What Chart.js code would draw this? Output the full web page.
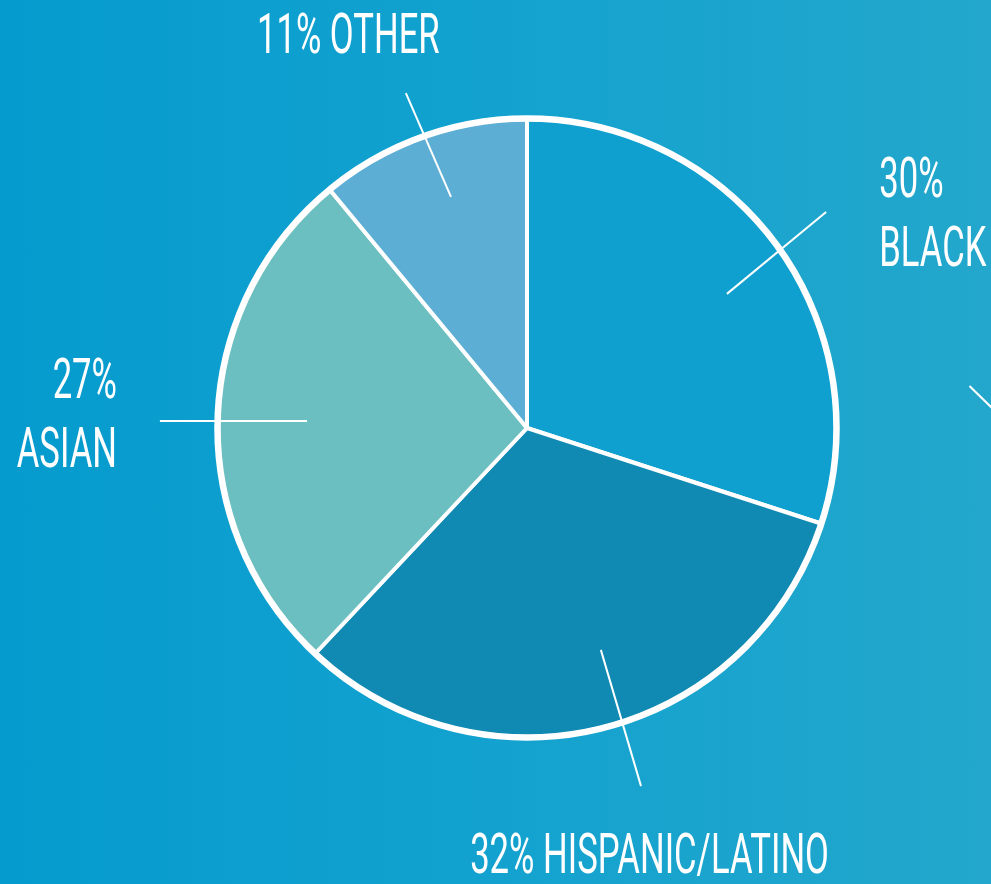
<!DOCTYPE html>
<html>
<head>
<meta charset="utf-8">
<script src="https://cdn.jsdelivr.net/npm/chart.js@4.4.1/dist/chart.umd.min.js"></script>
<style>
  html, body { margin: 0; padding: 0; }
  body {
    width: 991px; height: 884px; overflow: hidden;
    background: linear-gradient(to right, #059bce 0%, #13a2cf 50%, #23a7cc 100%);
  }
  #wrap { position: relative; width: 991px; height: 884px; }
</style>
</head>
<body>
<div id="wrap"><canvas id="myChart"></canvas></div>
<script>
var categories = ['BLACK', 'HISPANIC/LATINO', 'ASIAN', 'OTHER'];
var shares = [30, 32, 27, 11];
var sliceColors = ['#10a0cf', '#118ab3', '#6cbfc0', '#5daed5'];

// label text lines for each slice
var labelLines = [
    ['30%', 'BLACK'],
    ['32% HISPANIC/LATINO'],
    ['27%', 'ASIAN'],
    ['11% OTHER']
];
// first baseline, relative to the pie centre in radius units, and alignment
var labelPlace = [
    [1.140, -0.747, 'left'],
    [-0.184, 1.440, 'left'],
    [-1.327, -0.097, 'right'],
    [-0.874, -1.214, 'left']
];
// leader lines, inner end then outer end, relative to the centre in radius units
var leaderLines = [
    [[0.647, -0.434], [0.968, -0.699]],
    [[0.239, 0.718], [0.369, 1.159]],
    [[-0.712, -0.023], [-1.188, -0.023]],
    [[-0.246, -0.748], [-0.392, -1.084]],
    [[1.432, -0.136], [1.52, -0.05]]     // stray one at the right edge
];

var FONT_SIZE = 55;
var SQUEEZE = 0.63;   // condensed look
var LINE_GAP = 69;

var canvas = document.getElementById('myChart');
var ctx = canvas.getContext('2d');

const pieDecor = {
    id: 'pieDecor',
    afterDatasetsDraw(chart) {
        const arcs = chart.getDatasetMeta(0).data;
        if (!arcs.length) return;
        const c = chart.ctx;
        const cx = arcs[0].x, cy = arcs[0].y, r = arcs[0].outerRadius;

        c.save();
        // thicker outer rim
        c.strokeStyle = '#ffffff';
        c.lineWidth = 6.5;
        c.beginPath();
        c.arc(cx, cy, r + 0.5, 0, Math.PI * 2);
        c.stroke();

        // leader lines
        c.lineWidth = 2;
        leaderLines.forEach(function (ln) {
            c.beginPath();
            c.moveTo(cx + ln[0][0] * r, cy + ln[0][1] * r);
            c.lineTo(cx + ln[1][0] * r, cy + ln[1][1] * r);
            c.stroke();
        });

        // labels
        c.fillStyle = '#ffffff';
        c.textBaseline = 'alphabetic';
        c.font = '400 ' + FONT_SIZE + 'px Roboto, "Liberation Sans", sans-serif';
        labelLines.forEach(function (lines, i) {
            const p = labelPlace[i];
            const bx = cx + p[0] * r;
            let by = cy + p[1] * r;
            lines.forEach(function (txt) {
                c.save();
                c.translate(bx, by);
                c.scale(SQUEEZE, 1);
                c.textAlign = p[2];
                c.fillText(txt, 0, 0);
                c.restore();
                by += LINE_GAP;
            });
        });
        c.restore();
    }
};

const data = {
    labels: categories,
    datasets: [{
        data: shares,
        backgroundColor: sliceColors,
        borderColor: '#ffffff',
        borderWidth: 4
    }]
};

const config = {
    type: 'pie',
    data: data,
    options: {
        responsive: true,
        maintainAspectRatio: false,
        animation: false,
        layout: {
            padding: { left: 216, right: 153, top: 117, bottom: 145 }
        },
        plugins: {
            legend: { display: false },
            tooltip: { enabled: false }
        }
    },
    plugins: [pieDecor]
};

new Chart(ctx, config);
</script>
</body>
</html>
